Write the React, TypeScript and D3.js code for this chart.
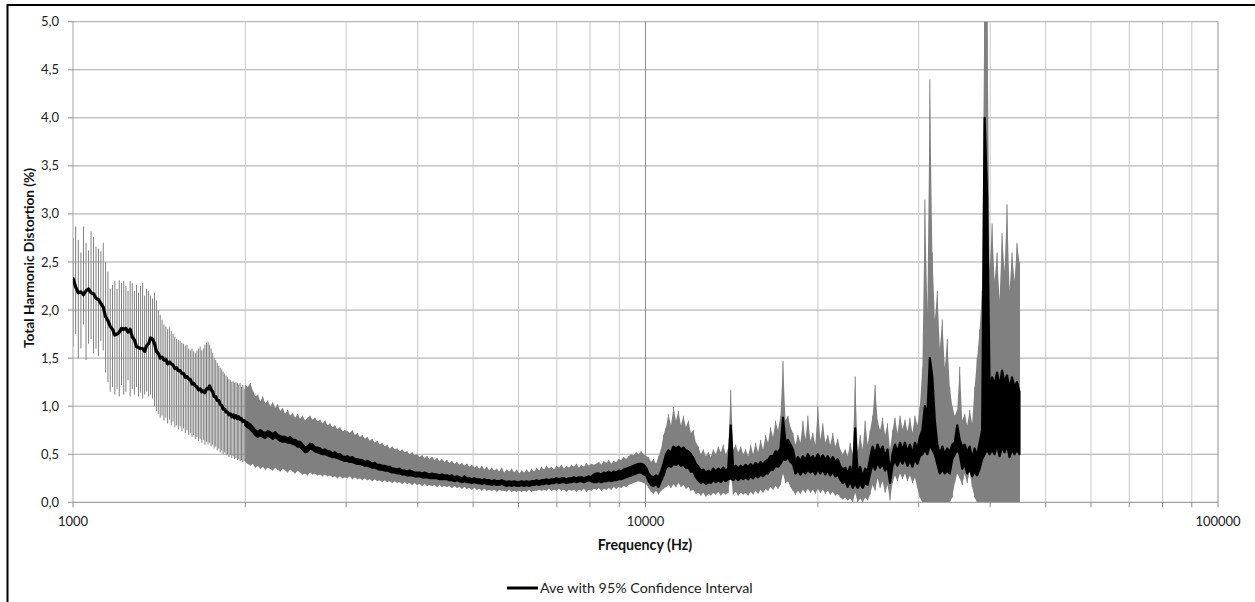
import React from "react";
import * as d3 from "d3";

// ---- Data ---------------------------------------------------------------
// Low-frequency part: one reading per FFT bin (bins are 10.77 Hz apart).
const LOW_START_HZ = 1000;
const LOW_BIN_HZ = 10.77;

const lowMean = [
  2.33, 2.24, 2.18, 2.19, 2.16, 2.2, 2.22, 2.18, 2.17, 2.12,
  2.11, 2.07, 2.03, 1.93, 1.89, 1.83, 1.8, 1.74, 1.75, 1.77,
  1.81, 1.8, 1.81, 1.77, 1.8, 1.72, 1.69, 1.62, 1.61, 1.6,
  1.6, 1.57, 1.63, 1.65, 1.71, 1.7, 1.65, 1.57, 1.55, 1.5,
  1.51, 1.48, 1.49, 1.44, 1.46, 1.44, 1.43, 1.39, 1.4, 1.37,
  1.37, 1.34, 1.34, 1.3, 1.31, 1.28, 1.28, 1.23, 1.24, 1.21,
  1.2, 1.17, 1.18, 1.15, 1.16, 1.14, 1.18, 1.18, 1.21, 1.17,
  1.15, 1.1, 1.1, 1.06, 1.06, 1.02, 1.01, 0.97, 0.97, 0.94,
  0.94, 0.91, 0.92, 0.89, 0.91, 0.88, 0.9, 0.87, 0.89, 0.86,
  0.87, 0.84, 0.85,
];

const lowUpper = [
  2.75, 2.87, 2.73, 2.6, 2.87, 2.7, 2.62, 2.82, 2.76, 2.66,
  2.64, 2.61, 2.7, 2.5, 2.4, 2.22, 2.26, 2.3, 2.22, 2.31,
  2.28, 2.3, 2.25, 2.2, 2.3, 2.28, 2.2, 2.26, 2.18, 2.25,
  2.28, 2.15, 2.22, 2.2, 2.15, 2.12, 2.18, 2.1, 2.0, 1.95,
  1.9, 1.85, 1.83, 1.8, 1.82, 1.78, 1.75, 1.72, 1.7, 1.69,
  1.68, 1.66, 1.65, 1.63, 1.64, 1.6, 1.58, 1.6, 1.57, 1.55,
  1.58, 1.6, 1.62, 1.58, 1.6, 1.64, 1.66, 1.67, 1.64, 1.6,
  1.55, 1.5, 1.48, 1.45, 1.42, 1.4, 1.38, 1.36, 1.34, 1.32,
  1.3, 1.28, 1.27, 1.25, 1.26, 1.24, 1.25, 1.24, 1.22, 1.24,
  1.2, 1.22, 1.18,
];

const lowLower = [
  1.62, 1.75, 1.5, 1.6, 1.85, 1.48, 1.65, 1.7, 1.55, 1.6,
  1.52, 1.68, 1.58, 1.35, 1.25, 1.15, 1.2, 1.12, 1.18, 1.1,
  1.22, 1.12, 1.15, 1.27, 1.1, 1.18, 1.12, 1.2, 1.1, 1.14,
  1.08, 1.12, 1.15, 1.1, 1.12, 1.08, 1.0, 0.95, 0.92, 0.88,
  0.9, 0.85, 0.88, 0.82, 0.86, 0.8, 0.84, 0.78, 0.8, 0.76,
  0.79, 0.74, 0.77, 0.72, 0.75, 0.7, 0.72, 0.68, 0.7, 0.66,
  0.68, 0.64, 0.66, 0.62, 0.65, 0.6, 0.63, 0.6, 0.62, 0.58,
  0.6, 0.56, 0.58, 0.54, 0.56, 0.52, 0.54, 0.5, 0.52, 0.49,
  0.5, 0.47, 0.49, 0.46, 0.48, 0.45, 0.46, 0.44, 0.45, 0.43,
  0.44, 0.42, 0.43,
];

// Upper part: readings on a logarithmic frequency grid from 2 kHz to 45 kHz.
// Each grid cell keeps the lowest and highest average seen in it, and the
// lower / upper confidence limits.
const BAND_START_HZ = 2000;
const BAND_END_HZ = 45000;

const bandMeanHigh = [
  0.84, 0.83, 0.81, 0.78, 0.75, 0.73, 0.75, 0.73, 0.72, 0.74,
  0.73, 0.71, 0.73, 0.7, 0.69, 0.68, 0.68, 0.66, 0.68, 0.65,
  0.65, 0.63, 0.63, 0.6, 0.57, 0.58, 0.61, 0.6, 0.57, 0.57,
  0.56, 0.54, 0.55, 0.53, 0.53, 0.51, 0.52, 0.5, 0.5, 0.48,
  0.47, 0.48, 0.46, 0.47, 0.45, 0.45, 0.44, 0.44, 0.42, 0.43,
  0.42, 0.4, 0.41, 0.39, 0.39, 0.38, 0.38, 0.37, 0.37, 0.35,
  0.35, 0.34, 0.35, 0.33, 0.33, 0.32, 0.33, 0.32, 0.31, 0.31,
  0.31, 0.3, 0.31, 0.3, 0.29, 0.3, 0.29, 0.29, 0.28, 0.29,
  0.28, 0.28, 0.27, 0.28, 0.26, 0.27, 0.26, 0.25, 0.27, 0.25,
  0.25, 0.24, 0.25, 0.24, 0.24, 0.23, 0.24, 0.23, 0.23, 0.22,
  0.23, 0.22, 0.22, 0.23, 0.22, 0.21, 0.22, 0.21, 0.22, 0.21,
  0.21, 0.22, 0.21, 0.22, 0.21, 0.22, 0.22, 0.23, 0.22, 0.23,
  0.23, 0.24, 0.23, 0.24, 0.24, 0.25, 0.24, 0.25, 0.25, 0.24,
  0.25, 0.25, 0.26, 0.25, 0.26, 0.26, 0.25, 0.26, 0.27, 0.26,
  0.29, 0.3, 0.3, 0.29, 0.31, 0.3, 0.32, 0.3, 0.32, 0.31,
  0.33, 0.32, 0.34, 0.35, 0.36, 0.37, 0.38, 0.39, 0.4, 0.4,
  0.39, 0.36, 0.3, 0.27, 0.26, 0.28, 0.26, 0.32, 0.4, 0.5,
  0.54, 0.52, 0.58, 0.56, 0.58, 0.55, 0.57, 0.54, 0.53, 0.5,
  0.46, 0.4, 0.37, 0.33, 0.34, 0.31, 0.33, 0.31, 0.35, 0.32,
  0.35, 0.33, 0.36, 0.33, 0.35, 0.8, 0.35, 0.38, 0.35, 0.38,
  0.36, 0.39, 0.36, 0.4, 0.37, 0.41, 0.38, 0.42, 0.39, 0.43,
  0.44, 0.48, 0.48, 0.53, 0.52, 0.56, 0.88, 0.62, 0.65, 0.6,
  0.55, 0.42, 0.47, 0.43, 0.48, 0.44, 0.5, 0.45, 0.48, 0.44,
  0.5, 0.45, 0.49, 0.44, 0.48, 0.43, 0.47, 0.42, 0.45, 0.38,
  0.34, 0.36, 0.3, 0.37, 0.27, 0.77, 0.28, 0.37, 0.26, 0.35,
  0.32, 0.46, 0.58, 0.5, 0.6, 0.52, 0.58, 0.48, 0.55, 0.3,
  0.5, 0.6, 0.52, 0.62, 0.54, 0.62, 0.52, 0.6, 0.5, 0.62,
  0.55, 0.68, 0.75, 1.0, 0.9, 1.5, 1.3, 0.85, 0.6, 0.5,
  0.58, 0.5, 0.56, 0.52, 0.6, 0.62, 0.8, 0.65, 0.58, 0.6,
  0.52, 0.58, 0.45, 0.56, 0.48, 0.62, 0.75, 4.0, 3.2, 1.2,
  1.3, 1.22, 1.35, 1.2, 1.37, 1.25, 1.32, 1.18, 1.3, 1.2,
  1.25, 1.15,
];

const bandMeanLow = [
  0.8, 0.78, 0.76, 0.73, 0.7, 0.68, 0.7, 0.68, 0.67, 0.69,
  0.68, 0.66, 0.68, 0.66, 0.64, 0.63, 0.63, 0.62, 0.62, 0.61,
  0.6, 0.58, 0.58, 0.55, 0.52, 0.53, 0.56, 0.55, 0.53, 0.52,
  0.51, 0.5, 0.5, 0.49, 0.48, 0.47, 0.47, 0.46, 0.45, 0.44,
  0.43, 0.43, 0.42, 0.42, 0.41, 0.4, 0.4, 0.39, 0.38, 0.38,
  0.37, 0.36, 0.36, 0.35, 0.34, 0.34, 0.33, 0.33, 0.32, 0.31,
  0.31, 0.3, 0.3, 0.29, 0.29, 0.28, 0.28, 0.28, 0.27, 0.27,
  0.27, 0.26, 0.26, 0.26, 0.25, 0.25, 0.25, 0.25, 0.24, 0.24,
  0.24, 0.24, 0.23, 0.23, 0.22, 0.23, 0.22, 0.21, 0.22, 0.21,
  0.21, 0.2, 0.21, 0.2, 0.2, 0.19, 0.2, 0.19, 0.19, 0.18,
  0.19, 0.18, 0.18, 0.19, 0.18, 0.17, 0.18, 0.17, 0.18, 0.17,
  0.17, 0.18, 0.17, 0.18, 0.17, 0.18, 0.18, 0.19, 0.18, 0.19,
  0.19, 0.2, 0.19, 0.2, 0.2, 0.21, 0.2, 0.21, 0.21, 0.2,
  0.21, 0.21, 0.22, 0.21, 0.22, 0.22, 0.21, 0.22, 0.23, 0.22,
  0.21, 0.21, 0.22, 0.21, 0.22, 0.22, 0.23, 0.22, 0.23, 0.23,
  0.24, 0.24, 0.25, 0.26, 0.27, 0.28, 0.29, 0.3, 0.31, 0.31,
  0.29, 0.28, 0.22, 0.18, 0.17, 0.19, 0.16, 0.22, 0.28, 0.36,
  0.38, 0.37, 0.4, 0.39, 0.41, 0.38, 0.39, 0.36, 0.36, 0.32,
  0.32, 0.26, 0.23, 0.2, 0.22, 0.19, 0.21, 0.2, 0.23, 0.21,
  0.23, 0.21, 0.24, 0.22, 0.24, 0.25, 0.23, 0.26, 0.23, 0.26,
  0.24, 0.26, 0.24, 0.27, 0.25, 0.28, 0.26, 0.29, 0.27, 0.3,
  0.3, 0.34, 0.34, 0.38, 0.37, 0.4, 0.45, 0.44, 0.47, 0.42,
  0.4, 0.3, 0.33, 0.29, 0.33, 0.3, 0.34, 0.31, 0.33, 0.29,
  0.35, 0.3, 0.34, 0.29, 0.33, 0.28, 0.32, 0.27, 0.29, 0.24,
  0.2, 0.22, 0.16, 0.22, 0.15, 0.2, 0.15, 0.2, 0.15, 0.2,
  0.18, 0.3, 0.4, 0.34, 0.42, 0.36, 0.4, 0.33, 0.38, 0.2,
  0.38, 0.44, 0.38, 0.46, 0.4, 0.46, 0.38, 0.44, 0.37, 0.45,
  0.4, 0.48, 0.5, 0.55, 0.5, 0.6, 0.55, 0.5, 0.4, 0.3,
  0.34, 0.3, 0.33, 0.3, 0.45, 0.5, 0.55, 0.5, 0.35, 0.4,
  0.3, 0.35, 0.27, 0.32, 0.28, 0.35, 0.45, 0.5, 0.55, 0.5,
  0.55, 0.5, 0.6, 0.48, 0.58, 0.52, 0.6, 0.47, 0.55, 0.5,
  0.55, 0.5,
];

const bandUpper = [
  1.22, 1.2, 1.24, 1.16, 1.1, 1.12, 1.05, 1.1, 1.03, 1.06,
  1.0, 1.04, 0.98, 1.02, 0.95, 0.98, 0.92, 0.96, 0.9, 0.93,
  0.88, 0.92, 0.87, 0.9, 0.85, 0.88, 0.9, 0.86, 0.88, 0.84,
  0.86, 0.82, 0.85, 0.8, 0.82, 0.78, 0.8, 0.76, 0.78, 0.74,
  0.75, 0.74, 0.72, 0.75, 0.7, 0.72, 0.68, 0.7, 0.66, 0.68,
  0.64, 0.66, 0.62, 0.64, 0.6, 0.62, 0.58, 0.6, 0.56, 0.58,
  0.55, 0.56, 0.53, 0.55, 0.52, 0.53, 0.5, 0.52, 0.49, 0.5,
  0.47, 0.49, 0.46, 0.48, 0.45, 0.47, 0.44, 0.46, 0.43, 0.45,
  0.42, 0.44, 0.41, 0.43, 0.4, 0.42, 0.39, 0.41, 0.38, 0.4,
  0.37, 0.39, 0.36, 0.38, 0.35, 0.38, 0.34, 0.37, 0.33, 0.36,
  0.33, 0.35, 0.32, 0.36, 0.31, 0.34, 0.32, 0.35, 0.31, 0.34,
  0.3, 0.33, 0.31, 0.34, 0.31, 0.35, 0.32, 0.36, 0.33, 0.37,
  0.34, 0.38, 0.35, 0.37, 0.34, 0.38, 0.36, 0.39, 0.35, 0.38,
  0.36, 0.39, 0.37, 0.4, 0.36, 0.39, 0.37, 0.41, 0.38, 0.4,
  0.39, 0.4, 0.42, 0.39, 0.43, 0.41, 0.44, 0.4, 0.43, 0.42,
  0.45, 0.44, 0.47, 0.45, 0.48, 0.5, 0.49, 0.52, 0.5, 0.53,
  0.5, 0.48, 0.47, 0.42, 0.45, 0.4, 0.48, 0.55, 0.7, 0.78,
  0.92, 0.8, 0.99, 0.85, 0.95, 0.8, 0.9, 0.78, 0.85, 0.72,
  0.75, 0.62, 0.58, 0.5, 0.55, 0.48, 0.52, 0.47, 0.55, 0.5,
  0.58, 0.52, 0.6, 0.5, 0.56, 1.17, 0.55, 0.6, 0.52, 0.58,
  0.5, 0.55, 0.48, 0.6, 0.5, 0.62, 0.52, 0.65, 0.55, 0.7,
  0.62, 0.78, 0.68, 0.85, 0.75, 0.9, 1.47, 0.85, 0.9, 0.78,
  0.72, 0.6, 0.7, 0.62, 0.85, 0.65, 0.9, 0.64, 0.72, 0.6,
  1.0, 0.65, 0.82, 0.62, 0.7, 0.6, 0.72, 0.58, 0.66, 0.55,
  0.5, 0.55, 0.48, 0.62, 0.5, 1.31, 0.52, 0.7, 0.55, 0.85,
  0.6, 0.75, 0.9, 1.22, 0.85, 0.75, 0.88, 0.7, 0.82, 0.55,
  0.75, 0.88, 0.72, 0.9, 0.76, 0.86, 0.74, 0.88, 0.72, 0.9,
  0.8, 1.0, 1.4, 3.15, 2.0, 4.4, 2.6, 1.9, 2.2, 1.6,
  1.9, 1.4, 1.7, 1.2, 1.0, 0.9, 0.96, 1.41, 0.85, 0.92,
  0.8, 0.96, 0.82, 1.2, 1.5, 1.8, 2.2, 5.5, 5.5, 2.4,
  2.9, 2.3, 2.6, 2.1, 2.8, 2.4, 3.1, 2.2, 2.6, 2.3,
  2.7, 2.5,
];

const bandLower = [
  0.42, 0.4, 0.38, 0.4, 0.36, 0.38, 0.35, 0.37, 0.34, 0.36,
  0.35, 0.33, 0.36, 0.34, 0.32, 0.35, 0.33, 0.31, 0.34, 0.32,
  0.3, 0.33, 0.31, 0.29, 0.3, 0.28, 0.31, 0.29, 0.3, 0.28,
  0.29, 0.27, 0.29, 0.27, 0.28, 0.26, 0.27, 0.25, 0.27, 0.25,
  0.26, 0.25, 0.27, 0.24, 0.26, 0.24, 0.25, 0.23, 0.25, 0.23,
  0.24, 0.22, 0.24, 0.22, 0.23, 0.21, 0.23, 0.21, 0.22, 0.2,
  0.22, 0.2, 0.21, 0.19, 0.21, 0.19, 0.2, 0.18, 0.2, 0.18,
  0.19, 0.17, 0.19, 0.17, 0.18, 0.17, 0.18, 0.16, 0.18, 0.16,
  0.17, 0.16, 0.17, 0.15, 0.17, 0.15, 0.16, 0.14, 0.16, 0.14,
  0.15, 0.13, 0.15, 0.13, 0.14, 0.12, 0.14, 0.12, 0.13, 0.12,
  0.13, 0.11, 0.13, 0.12, 0.12, 0.11, 0.13, 0.11, 0.12, 0.11,
  0.12, 0.11, 0.12, 0.11, 0.13, 0.11, 0.12, 0.12, 0.13, 0.12,
  0.13, 0.12, 0.14, 0.12, 0.13, 0.12, 0.14, 0.12, 0.13, 0.11,
  0.13, 0.12, 0.13, 0.11, 0.13, 0.12, 0.14, 0.11, 0.13, 0.12,
  0.14, 0.13, 0.15, 0.12, 0.14, 0.13, 0.15, 0.13, 0.16, 0.14,
  0.16, 0.15, 0.17, 0.16, 0.18, 0.19, 0.2, 0.21, 0.22, 0.21,
  0.2, 0.19, 0.15, 0.11, 0.09, 0.12, 0.08, 0.12, 0.14, 0.16,
  0.18, 0.15, 0.19, 0.16, 0.2, 0.16, 0.18, 0.14, 0.16, 0.12,
  0.13, 0.09, 0.1, 0.07, 0.1, 0.06, 0.09, 0.07, 0.1, 0.08,
  0.11, 0.07, 0.1, 0.08, 0.1, 0.3, 0.08, 0.11, 0.07, 0.1,
  0.08, 0.1, 0.07, 0.11, 0.08, 0.12, 0.09, 0.13, 0.1, 0.14,
  0.12, 0.16, 0.13, 0.17, 0.14, 0.18, 0.3, 0.2, 0.22, 0.16,
  0.12, 0.08, 0.12, 0.09, 0.13, 0.1, 0.14, 0.1, 0.13, 0.09,
  0.14, 0.1, 0.13, 0.09, 0.12, 0.08, 0.11, 0.07, 0.09, 0.05,
  0.03, 0.05, 0.02, 0.04, 0, 0.1, 0, 0.04, 0, 0.05,
  0.02, 0.08, 0.18, 0.12, 0.25, 0.15, 0.22, 0.1, 0.18, 0.02,
  0.2, 0.28, 0.22, 0.3, 0.24, 0.3, 0.22, 0.28, 0.2, 0.26,
  0.15, 0.05, 0, 0, 0, 0, 0, 0, 0, 0,
  0, 0, 0, 0, 0.05, 0.2, 0.3, 0.25, 0.18, 0.3,
  0.2, 0.32, 0.16, 0.05, 0, 0, 0, 0, 0, 0,
  0, 0, 0, 0, 0, 0, 0, 0, 0, 0,
  0, 0,
];

// Axis settings
const X_DOMAIN: [number, number] = [1000, 100000];
const Y_DOMAIN: [number, number] = [0, 5];
const yTicks = [0, 0.5, 1, 1.5, 2, 2.5, 3, 3.5, 4, 4.5, 5];
const xLabelTicks = [1000, 10000, 100000];
const xTitle = "Frequency (Hz)";
const yTitle = "Total Harmonic Distortion (%)";
const seriesName = "Ave with 95% Confidence Interval";

// ---- Layout --------------------------------------------------------------
const W = 1255;
const H = 602;
const PLOT = { left: 73, right: 1218, top: 21.7, bottom: 502.3 };
const FONT = "Lato, 'Open Sans', 'DejaVu Sans', sans-serif";
const BAR_GREY = "#808080";

type LowPt = { f: number; mean: number; lo: number; hi: number };
type BandPt = { f: number; mLo: number; mHi: number; lo: number; hi: number };

export default function App() {
  const x = d3.scaleLog().domain(X_DOMAIN).range([PLOT.left, PLOT.right]);
  const y = d3.scaleLinear().domain(Y_DOMAIN).range([PLOT.bottom, PLOT.top]);

  const lowPts: LowPt[] = lowMean.map((m, i) => ({
    f: LOW_START_HZ + i * LOW_BIN_HZ,
    mean: m,
    lo: lowLower[i],
    hi: lowUpper[i],
  }));
  const n = bandUpper.length;
  const bandPts: BandPt[] = bandUpper.map((u, i) => ({
    f: BAND_START_HZ * Math.pow(BAND_END_HZ / BAND_START_HZ, i / (n - 1)),
    mLo: bandMeanLow[i],
    mHi: bandMeanHigh[i],
    lo: bandLower[i],
    hi: u,
  }));

  const meanLine = d3
    .line<LowPt>()
    .x((d) => x(d.f))
    .y((d) => y(d.mean));
  const ciArea = d3
    .area<BandPt>()
    .x((d) => x(d.f))
    .y0((d) => y(d.lo))
    .y1((d) => y(d.hi));
  const meanArea = d3
    .area<BandPt>()
    .x((d) => x(d.f))
    .y0((d) => y(d.mLo))
    .y1((d) => y(d.mHi));

  // grid lines: minor (2..9 per decade) and major (decades)
  const minor: number[] = [];
  const major: number[] = [];
  for (let dec = 1000; dec < 100000; dec *= 10) {
    major.push(dec);
    for (let k = 2; k <= 9; k++) minor.push(dec * k);
  }
  major.push(100000);

  return (
    <div style={{ position: "absolute", left: 0, top: 0 }}>
      <svg width={W} height={H} style={{ display: "block" }} fontFamily={FONT}>
        <rect x={0} y={0} width={W} height={H} fill="#ffffff" />
        <defs>
          <clipPath id="plot-clip">
            <rect
              x={PLOT.left}
              y={PLOT.top}
              width={PLOT.right - PLOT.left}
              height={PLOT.bottom - PLOT.top}
            />
          </clipPath>
        </defs>

        {/* horizontal grid */}
        {yTicks.slice(1).map((t) => (
          <line
            key={"hg" + t}
            x1={PLOT.left}
            x2={PLOT.right}
            y1={y(t)}
            y2={y(t)}
            stroke="#a6a6a6"
            strokeWidth={1}
          />
        ))}
        {/* vertical grid */}
        {minor.map((t) => (
          <line
            key={"vm" + t}
            x1={x(t)}
            x2={x(t)}
            y1={PLOT.top}
            y2={PLOT.bottom}
            stroke="#c8c8c8"
            strokeWidth={1}
          />
        ))}
        {major.slice(1).map((t) => (
          <line
            key={"vM" + t}
            x1={x(t)}
            x2={x(t)}
            y1={PLOT.top}
            y2={PLOT.bottom}
            stroke="#8c8c8c"
            strokeWidth={1}
          />
        ))}

        {/* axes */}
        <line x1={PLOT.left} x2={PLOT.left} y1={PLOT.top} y2={PLOT.bottom} stroke="#a6a6a6" />
        <line x1={PLOT.left} x2={PLOT.right} y1={PLOT.bottom} y2={PLOT.bottom} stroke="#8c8c8c" />
        {yTicks.map((t) => (
          <line key={"yt" + t} x1={PLOT.left - 5} x2={PLOT.left} y1={y(t)} y2={y(t)} stroke="#8c8c8c" />
        ))}
        {major.concat(minor).map((t) => (
          <line key={"xt" + t} x1={x(t)} x2={x(t)} y1={PLOT.bottom} y2={PLOT.bottom + 5} stroke="#8c8c8c" />
        ))}

        {/* data */}
        <g clipPath="url(#plot-clip)">
          {lowPts.map((d, i) => (
            <line
              key={"eb" + i}
              x1={x(d.f)}
              x2={x(d.f)}
              y1={y(d.lo)}
              y2={y(d.hi)}
              stroke={BAR_GREY}
              strokeWidth={1}
            />
          ))}
          <path d={ciArea(bandPts) ?? ""} fill={BAR_GREY} />
          {bandPts.map((d, i) => (
            <line
              key={"bb" + i}
              x1={x(d.f)}
              x2={x(d.f)}
              y1={y(d.lo)}
              y2={y(d.hi)}
              stroke={BAR_GREY}
              strokeWidth={1}
            />
          ))}
          <path
            d={meanLine(lowPts) ?? ""}
            fill="none"
            stroke="#000000"
            strokeWidth={3.2}
            strokeLinejoin="round"
            strokeLinecap="round"
          />
          <path
            d={meanArea(bandPts) ?? ""}
            fill="#000000"
            stroke="#000000"
            strokeWidth={2.2}
            strokeLinejoin="round"
          />
        </g>

        {/* tick labels */}
        {yTicks.map((t) => (
          <text
            key={"yl" + t}
            x={59}
            y={y(t)}
            dy="0.35em"
            textAnchor="end"
            fontSize={13}
            fill="#222"
          >
            {d3.format(".1f")(t).replace(".", ",")}
          </text>
        ))}
        {xLabelTicks.map((t) => (
          <text key={"xl" + t} x={x(t)} y={526} textAnchor="middle" fontSize={13} fill="#222">
            {String(t)}
          </text>
        ))}

        {/* titles */}
        <text x={645} y={550} textAnchor="middle" fontSize={14.2} fontWeight="bold" fill="#111">
          {xTitle}
        </text>
        <text
          transform="translate(29,258) rotate(-90)"
          textAnchor="middle"
          dy="0.35em"
          fontSize={13.7}
          fontWeight="bold"
          fill="#111"
        >
          {yTitle}
        </text>

        {/* legend */}
        <line x1={507} x2={538} y1={588} y2={588} stroke="#000" strokeWidth={3} />
        <text x={540} y={588} dy="0.35em" fontSize={14.3} fill="#222">
          {seriesName}
        </text>

        {/* chart border */}
        <rect x={7.5} y={5} width={1400} height={800} fill="none" stroke="#000" strokeWidth={2} />
      </svg>
    </div>
  );
}
